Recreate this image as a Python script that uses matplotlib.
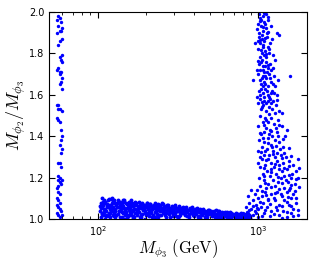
import matplotlib.pyplot as plt

# left strip (M_phi3 ~ 55-62 GeV)
left = [(57,1.98),(58,1.97),(56,1.96),(59,1.95),(57,1.93),(60,1.92),(58,1.91),(56,1.90),(59,1.91),
        (60,1.87),(58,1.86),(57,1.84),(60,1.79),(58,1.78),(59,1.77),(60,1.76),(57,1.73),(56,1.72),
        (58,1.71),(59,1.71),(58,1.70),(60,1.68),(59,1.66),(58,1.65),(60,1.63),(57,1.55),(56,1.55),
        (58,1.53),(57,1.53),(60,1.52),(56,1.49),(57,1.48),(58,1.47),(59,1.43),(60,1.40),(59,1.38),
        (58,1.36),(60,1.34),(59,1.32),(57,1.27),(58,1.27),(59,1.25),(57,1.21),(58,1.20),(60,1.19),
        (57,1.19),(58,1.18),(59,1.17),(57,1.16),(56,1.15),(57,1.13),(58,1.12),(56,1.10),(57,1.09),
        (58,1.08),(56,1.07),(57,1.06),(58,1.05),(59,1.04),(60,1.02),(56,1.03),(57,1.02),(58,1.01)]

# low band (M_phi3 ~ 104-890 GeV)
band = [(104,1.04),(105,1.08),(105,1.01),(106,1.06),(107,1.10),(107,1.03),(108,1.07),(109,1.02),
        (110,1.09),(110,1.05),(111,1.00),(112,1.08),(113,1.04),(114,1.06),(115,1.02),(116,1.09),
        (117,1.03),(118,1.07),(119,1.05),(120,1.01),(121,1.095),(122,1.04),(123,1.08),(124,1.02),
        (125,1.06),(126,1.03),(127,1.09),(128,1.05),(129,1.01),(130,1.07),(104,1.065),(106,1.025),
        (108,1.085),(111,1.045),(114,1.075),(117,1.015),(120,1.055),(123,1.10),(126,1.035),(129,1.08),
        (131,1.02),(132,1.06),(134,1.09),(135,1.04),(137,1.07),(138,1.01),(140,1.05),(141,1.08),
        (143,1.03),(144,1.065),(146,1.00),(147,1.09),(149,1.045),(150,1.025),(152,1.075),(153,1.055),
        (155,1.015),(157,1.085),(158,1.035),(160,1.06),(162,1.02),(163,1.08),(165,1.045),(167,1.005),
        (168,1.07),(170,1.03),(133,1.08),(136,1.04),(139,1.06),(142,1.01),(145,1.085),(148,1.05),
        (151,1.035),(154,1.07),(156,1.02),(159,1.055),(161,1.09),(164,1.04),(166,1.065),(169,1.01),
        (172,1.05),(174,1.08),(176,1.02),(178,1.065),(180,1.035),(182,1.085),(184,1.01),(186,1.055),
        (188,1.075),(190,1.025),(193,1.045),(195,1.07),(197,1.00),(200,1.06),(202,1.08),(205,1.03),
        (207,1.05),(210,1.015),(213,1.075),(215,1.04),(218,1.065),(221,1.02),(224,1.055),(227,1.08),
        (230,1.035),(233,1.06),(236,1.01),(239,1.045),(173,1.07),(177,1.04),(181,1.06),(185,1.02),
        (189,1.08),(194,1.05),(198,1.03),(203,1.065),(208,1.045),(212,1.075),(217,1.01),(222,1.055),
        (226,1.035),(231,1.07),(235,1.025),(240,1.06),
        (243,1.04),(246,1.07),(249,1.02),(252,1.055),(256,1.075),(259,1.03),(262,1.06),(266,1.01),
        (270,1.045),(273,1.07),(277,1.025),(281,1.055),(285,1.035),(289,1.065),(293,1.015),(297,1.05),
        (301,1.07),(305,1.03),(310,1.055),(314,1.005),(318,1.04),(323,1.065),(327,1.02),(332,1.05),
        (336,1.035),(340,1.06),(245,1.06),(251,1.08),(258,1.045),(264,1.02),(271,1.07),(279,1.04),
        (287,1.05),(295,1.025),(303,1.06),(312,1.04),(320,1.015),(330,1.055),(338,1.03),
        (345,1.05),(350,1.02),(355,1.06),(360,1.035),(365,1.045),(370,1.01),(376,1.055),(382,1.03),
        (388,1.06),(394,1.04),(400,1.015),(406,1.05),(412,1.025),(418,1.055),(425,1.035),(432,1.005),
        (439,1.045),(446,1.02),(453,1.05),(460,1.03),(468,1.04),(476,1.01),(484,1.045),(492,1.025),
        (500,1.035),(348,1.035),(358,1.045),(368,1.025),(379,1.04),(391,1.02),(403,1.035),(415,1.045),
        (428,1.015),(442,1.03),(456,1.04),(472,1.02),(488,1.03),
        (508,1.04),(516,1.015),(525,1.035),(534,1.025),(543,1.045),(552,1.01),(562,1.03),(572,1.04),
        (582,1.02),(592,1.035),(603,1.005),(614,1.03),(625,1.015),(636,1.035),(648,1.025),(660,1.01),
        (672,1.03),(685,1.02),(698,1.025),(512,1.025),(530,1.04),(548,1.02),(567,1.015),(587,1.028),
        (608,1.022),(630,1.028),(654,1.02),(678,1.012),
        (710,1.02),(722,1.03),(735,1.01),(748,1.025),(760,1.015),(773,1.02),(786,1.01),(800,1.025),
        (815,1.015),(830,1.02),(845,1.01),(860,1.015),(875,1.02),(890,1.005),(716,1.012),(742,1.018),
        (768,1.024),(795,1.008),(823,1.012),(852,1.016),
        (105,1.055),(107,1.075),(109,1.035),(111,1.085),(113,1.015),(115,1.065),(117,1.095),(119,1.03),
        (121,1.07),(123,1.05),(125,1.09),(127,1.015),(129,1.04),(131,1.075),(134,1.025),(136,1.06),
        (138,1.085),(141,1.035),(143,1.09),(146,1.055),(148,1.02),(151,1.08),(153,1.005),(156,1.045),
        (158,1.07),(161,1.03),(164,1.075),(166,1.015),(169,1.05),
        (171,1.085),(175,1.03),(179,1.05),(183,1.07),(187,1.01),(191,1.06),(196,1.04),(200,1.02),
        (204,1.08),(209,1.06),(214,1.03),(219,1.05),(223,1.07),(228,1.01),(232,1.05),(237,1.075),
        (242,1.02),(248,1.05),(254,1.035),(260,1.065),(268,1.03),(275,1.06),(283,1.01),(291,1.045),
        (299,1.035),(307,1.015),(316,1.05),(325,1.035),(334,1.045),
        (352,1.04),(362,1.015),(373,1.05),(385,1.045),(397,1.03),(409,1.04),(421,1.01),(435,1.05),
        (449,1.035),(464,1.012),(480,1.035),(496,1.045),(520,1.03),(539,1.008),(557,1.038),(577,1.01),
        (598,1.028),(619,1.035),(642,1.01),(666,1.033),(692,1.015),(728,1.025),(755,1.005),(780,1.028),
        (808,1.02),(838,1.025),(868,1.008),(882,1.015)]

# right cluster (M_phi3 ~ 0.8-1.8 TeV)
high = [(1010,1.99),(1060,1.98),(1120,1.99),(1030,1.97),(1150,1.96),(1080,1.95),(1000,1.94),(1040,1.93),
        (1110,1.92),(1070,1.91),(1015,1.90),(1300,1.90),(1350,1.89),(1130,1.88),(1055,1.87),(990,1.86),
        (1090,1.86),(1025,1.85),(1180,1.85),(1065,1.84),(1140,1.83),(1000,1.82),(1100,1.81),(1045,1.80),
        (1160,1.80),(950,1.85),(1085,1.79),(1020,1.78),(1230,1.79),
        (1050,1.77),(1120,1.76),(1010,1.75),(1180,1.75),(1070,1.74),(1140,1.73),(1030,1.72),(1200,1.72),
        (1090,1.71),(1000,1.70),(1160,1.70),(1060,1.69),(1250,1.69),(1580,1.69),(1120,1.68),(1020,1.67),
        (930,1.67),(1190,1.66),(1080,1.66),(1040,1.65),(1140,1.64),(1270,1.64),(1100,1.63),(1010,1.62),
        (1210,1.62),(1060,1.61),(1150,1.60),(1300,1.60),(1090,1.59),(1030,1.58),(1180,1.58),(1240,1.57),
        (1120,1.56),(1000,1.56),(1070,1.55),(1280,1.55),(1160,1.54),(1040,1.53),(1220,1.53),(1350,1.52),
        (1035,1.96),(1095,1.94),(1125,1.90),(1045,1.89),(1005,1.88),(1075,1.83),(1115,1.78),(1035,1.76),
        (1105,1.74),(1065,1.72),(1125,1.71),(1175,1.68),(1045,1.68),(1105,1.65),(1225,1.65),(1065,1.64),
        (1135,1.62),(1025,1.60),(1190,1.61),(1085,1.57),(1145,1.57),(1205,1.56),(1055,1.54),(1110,1.52),
        (1260,1.51),
        (1085,1.995),(1140,1.975),(1020,1.955),(1200,1.93),(1060,1.925),(985,1.915),(1150,1.905),
        (1095,1.875),(1030,1.865),(1210,1.87),(1160,1.82),(1040,1.815),(1110,1.795),(1270,1.77),
        (1000,1.765),(1150,1.745),(1230,1.73),(980,1.72),(1100,1.69),(1320,1.67),(1040,1.63),
        (1250,1.61),(1170,1.59),(980,1.59),(1300,1.575),(1050,1.565),
        (1020,1.50),(1100,1.49),(1200,1.49),(1320,1.48),(1060,1.47),(1150,1.47),(1250,1.46),(1000,1.45),
        (1400,1.45),(1120,1.44),(1180,1.43),(1080,1.42),(1300,1.42),(1040,1.41),(1220,1.40),(1460,1.40),
        (1140,1.39),(1010,1.38),(1270,1.38),(1090,1.37),(1350,1.37),(1190,1.36),(1050,1.35),(1420,1.35),
        (1130,1.34),(1240,1.33),(1000,1.33),(1310,1.32),(1080,1.31),(1170,1.31),(1480,1.30),(1030,1.30),
        (1260,1.30),(1380,1.31),(1110,1.48),(1280,1.44),(1160,1.41),(1330,1.40),(1060,1.39),(1210,1.35),
        (1100,1.33),(1360,1.34),
        (1400,1.51),(1160,1.505),(1080,1.455),(1340,1.455),(1200,1.425),(1500,1.43),(1030,1.415),
        (1420,1.385),(1150,1.365),(1290,1.355),(1560,1.345),(1040,1.325),(1230,1.315),(1440,1.32),
        (1600,1.305),
        (1050,1.29),(1150,1.29),(1300,1.28),(1550,1.28),(1000,1.27),(1200,1.27),(1420,1.27),(1100,1.26),
        (1650,1.26),(1250,1.25),(1020,1.25),(1350,1.24),(1500,1.24),(1130,1.23),(1700,1.23),(1060,1.22),
        (1280,1.22),(1450,1.21),(1180,1.21),(1600,1.20),(1010,1.20),(1380,1.20),(1230,1.19),(1080,1.19),
        (1530,1.18),(1320,1.18),(1150,1.17),(1680,1.17),(1030,1.16),(1260,1.16),(1450,1.15),(1120,1.15),
        (1580,1.15),(1200,1.24),(1400,1.23),(1620,1.22),(1090,1.21),(1340,1.26),(1480,1.19),(1750,1.20),
        (1120,1.285),(1400,1.295),(1750,1.29),(1260,1.265),(1560,1.255),(1080,1.245),(1440,1.245),
        (1790,1.245),(1200,1.225),(1550,1.215),(1320,1.205),(1720,1.195),(1100,1.175),(1400,1.175),
        (1600,1.165),(1200,1.155),(1800,1.155),(1340,1.145),(1050,1.135),(1560,1.14),
        (900,1.14),(980,1.14),(1100,1.13),(1300,1.13),(1500,1.13),(1650,1.12),(950,1.12),(1200,1.12),
        (1400,1.11),(860,1.11),(1050,1.11),(1600,1.10),(1000,1.10),(1250,1.10),(920,1.09),(1150,1.09),
        (1450,1.09),(1700,1.08),(880,1.08),(1060,1.08),(1350,1.07),(970,1.07),(1550,1.07),(840,1.06),
        (1130,1.06),(1280,1.06),(1000,1.05),(1650,1.05),(900,1.05),(1420,1.04),(950,1.04),(1200,1.04),
        (860,1.03),(1080,1.03),(1600,1.03),(820,1.02),(920,1.02),(1350,1.02),(1000,1.01),(1500,1.01),
        (880,1.01),(1750,1.02),(1180,1.015),(960,1.03),(1040,1.06),(1270,1.09),(1380,1.12),(1520,1.105),
        (1680,1.135),(1120,1.115),(850,1.035),(930,1.065),(1020,1.085),
        (1260,1.125),(1700,1.10),(1150,1.095),(1500,1.085),(1400,1.065),(1180,1.075),(1600,1.065),
        (1300,1.045),(1750,1.045),(1100,1.045),(1500,1.035),(1250,1.025),(1650,1.015),(1400,1.005),
        (1050,1.015),(980,1.055),(880,1.045),(800,1.03),(780,1.015)]

yticks = [1.0, 1.2, 1.4, 1.6, 1.8, 2.0]

plt.rcParams['mathtext.fontset'] = 'cm'

fig = plt.figure(figsize=(3.17, 2.64), dpi=100)
ax = fig.add_axes([0.155, 0.17, 0.813, 0.785])

for pts, size in ((left, 6), (band, 8), (high, 6)):
    m = [p[0] for p in pts]
    r = [p[1] for p in pts]
    ax.scatter(m, r, s=size, c='blue', linewidths=0)

ax.set_xscale('log')
ax.set_xlim(50, 2000)
ax.set_ylim(1.0, 2.0)
ax.set_yticks(yticks)
ax.set_yticklabels(['%.1f' % t for t in yticks])
ax.tick_params(which='both', direction='in', top=True, right=True, labelsize=7)
ax.tick_params(which='major', length=4)
ax.tick_params(which='minor', length=2)
ax.set_xlabel(r'$M_{\phi_3}\ \mathrm{(GeV)}$', fontsize=12, labelpad=0)
ax.set_ylabel(r'$M_{\phi_2}/M_{\phi_3}$', fontsize=13, labelpad=1)

fig.savefig('out.png')
